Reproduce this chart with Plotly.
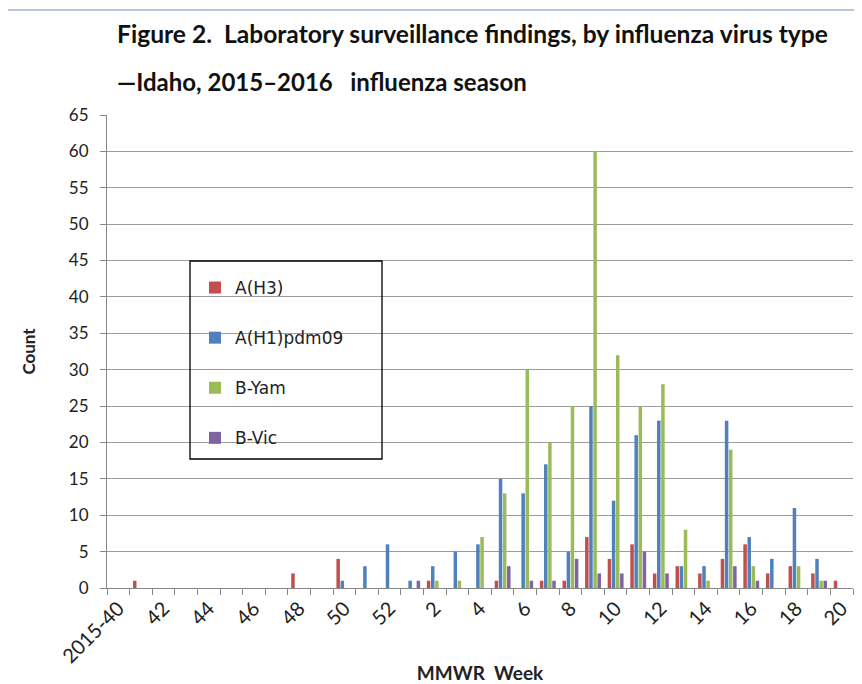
import plotly.graph_objects as go

weeks = ["2015-40"] + [str(w) for w in range(41, 53)] + [str(w) for w in range(1, 21)]
tick_text = [w if i % 2 == 0 else "" for i, w in enumerate(weeks)]

# values per week: 40..52, 1..20
a_h3 = [0, 1, 0, 0, 0, 0, 0, 0, 2, 0, 4, 0, 0,
        0, 1, 0, 0, 1, 0, 1, 1, 7, 4, 6, 2, 3, 2, 4, 6, 2, 3, 2, 1]
a_h1 = [0, 0, 0, 0, 0, 0, 0, 0, 0, 0, 1, 3, 6,
        1, 3, 5, 6, 15, 13, 17, 5, 25, 12, 21, 23, 3, 3, 23, 7, 4, 11, 4, 0]
b_yam = [0, 0, 0, 0, 0, 0, 0, 0, 0, 0, 0, 0, 0,
         0, 1, 1, 7, 13, 30, 20, 25, 60, 32, 25, 28, 8, 1, 19, 3, 0, 3, 1, 0]
b_vic = [0, 0, 0, 0, 0, 0, 0, 0, 0, 0, 0, 0, 0,
         1, 0, 0, 0, 3, 1, 1, 4, 2, 2, 5, 2, 0, 0, 3, 1, 0, 0, 1, 0]

series = [
    ("A(H3)", a_h3, "#C0504D"),
    ("A(H1)pdm09", a_h1, "#4F81BD"),
    ("B-Yam", b_yam, "#9BBB59"),
    ("B-Vic", b_vic, "#8064A2"),
]

fig = go.Figure()
for name, vals, color in series:
    fig.add_trace(go.Bar(x=weeks, y=vals, name=name, marker_color=color,
                         marker_line_width=0, legendgroup=name))

OFF = 8  # page body margin in the viewer
W, H = 862 - OFF, 684 - OFF
L = 107 - OFF
T = 115 - OFF
R = W - (853 - OFF)
B = H - (588 - OFF)
pw = W - L - R
ph = H - T - B

def px_x(p):
    return (p - OFF - L) / pw

def px_y(p):
    return (H - B - (p - OFF)) / ph

fig.update_layout(
    width=W, height=H,
    margin=dict(l=L, r=R, t=T, b=B),
    paper_bgcolor="white", plot_bgcolor="white",
    barmode="group", bargap=0.27, bargroupgap=0.15,
    font=dict(family="Lato", color="#222"),
    showlegend=True,
    legend=dict(x=px_x(195), y=px_y(270), xanchor="left", yanchor="top",
                bgcolor="rgba(0,0,0,0)", borderwidth=0,
                font=dict(family="DejaVu Sans", size=17, color="#222"),
                tracegroupgap=25),
    xaxis=dict(type="category", tickmode="array", tickvals=weeks, ticktext=tick_text,
               tickangle=-45, tickson="boundaries", ticks="outside", ticklen=6,
               tickcolor="#888", showline=True, linecolor="#888", linewidth=1,
               showgrid=False, automargin=False,
               tickfont=dict(family="Lato", size=20, color="#222"),
               title=dict(text="<b>MMWR  Week</b>", font=dict(family="Lato", size=19),
                          standoff=0),
               range=[-0.5, 32.5]),
    yaxis=dict(range=[0, 65], dtick=5, tick0=0, ticks="outside", ticklen=6,
               tickcolor="#888", showline=True, linecolor="#888", linewidth=1,
               showgrid=True, gridcolor="#9C9C9C", gridwidth=1.4,
               ticklabelstandoff=8, automargin=False,
               tickfont=dict(family="Lato", size=17, color="#222"),
               title=dict(text="<b>Count</b>", font=dict(family="Lato", size=17),
                          standoff=28)),
    shapes=[
        dict(type="rect", xref="paper", yref="paper",
             x0=px_x(190), x1=px_x(382), y0=px_y(459), y1=px_y(261),
             line=dict(color="black", width=1.3), fillcolor="rgba(0,0,0,0)",
             layer="above"),
        dict(type="rect", xref="paper", yref="paper",
             x0=px_x(7), x1=px_x(900), y0=px_y(720), y1=px_y(10),
             line=dict(color="#9DB5D5", width=1.5), fillcolor="rgba(0,0,0,0)",
             layer="below"),
    ],
    annotations=[
        dict(text="<b>Figure 2.  Laboratory surveillance findings, by influenza virus type</b>",
             xref="paper", yref="paper", x=px_x(115), y=px_y(33), xanchor="left",
             yanchor="middle", showarrow=False,
             font=dict(family="Lato", size=24.6, color="#111")),
        dict(text="<b>\u2014Idaho, 2015\u20132016   influenza season</b>",
             xref="paper", yref="paper", x=px_x(115), y=px_y(81), xanchor="left",
             yanchor="middle", showarrow=False,
             font=dict(family="Lato", size=24, color="#111")),
    ],
)

fig.write_html("out.html")
